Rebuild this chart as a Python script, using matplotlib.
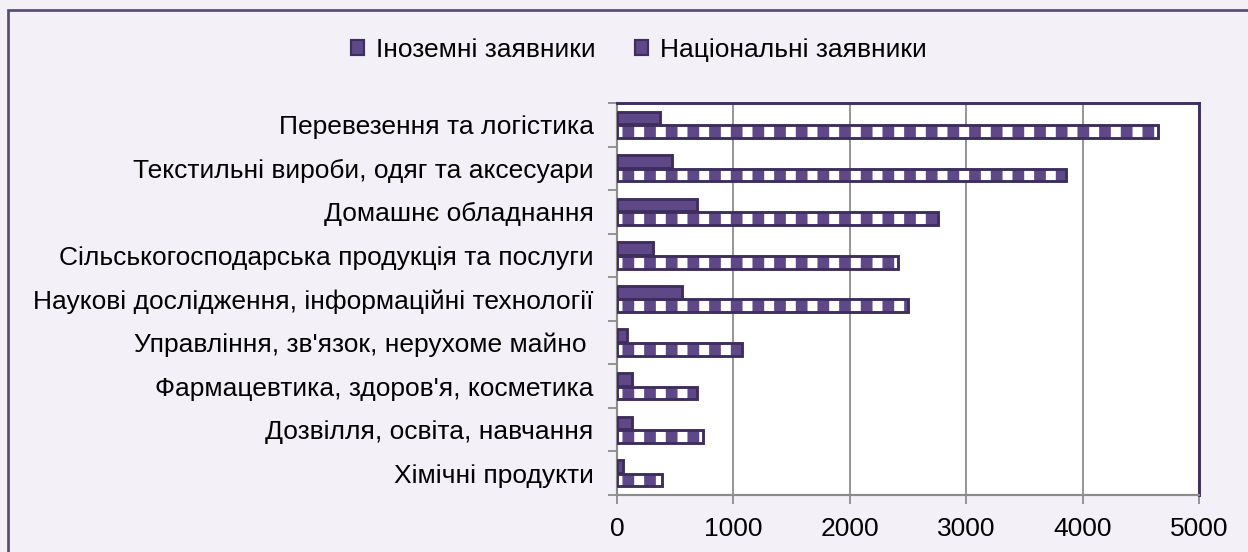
import numpy as np
import matplotlib.pyplot as plt
from matplotlib.patches import Patch, Rectangle

plt.rcParams['font.family'] = ['Liberation Sans', 'DejaVu Sans']
plt.rcParams['hatch.linewidth'] = 5.5

categories = ['Перевезення та логістика',
              'Текстильні вироби, одяг та аксесуари',
              'Домашнє обладнання',
              'Сільськогосподарська продукція та послуги',
              'Наукові дослідження, інформаційні технології',
              'Управління, зв\'язок, нерухоме майно ',
              'Фармацевтика, здоров\'я, косметика',
              'Дозвілля, освіта, навчання',
              'Хімічні продукти']
foreign = [370, 470, 690, 310, 555, 90, 130, 125, 55]
national = [4650, 3860, 2760, 2415, 2500, 1075, 690, 740, 385]
xticks = [0, 1000, 2000, 3000, 4000, 5000]

purple = '#5e4887'
dark = '#3e2d5e'
bg = '#f3f1f7'
grey = '#8c8c8c'
fs = 14.6

fig = plt.figure(figsize=(9.6, 552 / 130), dpi=130, facecolor=bg)
ax = fig.add_axes([617 / 1248, 1 - 495 / 552, 582 / 1248, 392 / 552])
ax.set_facecolor('white')

y = np.arange(len(categories))
h = 0.29
# fill layer (national gets a white stripe pattern), then outline layer
ax.barh(y - 0.155, foreign, height=h, color=purple, edgecolor='white', linewidth=0, zorder=3)
ax.barh(y - 0.155, foreign, height=h, fill=False, edgecolor=dark, linewidth=1.6, zorder=4)
nb = ax.barh(y + 0.155, national, height=h, color=purple, edgecolor='white', hatch='|', linewidth=0, zorder=3)
for p in nb:
    if hasattr(p, 'set_hatch_linewidth'):
        p.set_hatch_linewidth(5.5)
ax.barh(y + 0.155, national, height=h, fill=False, edgecolor=dark, linewidth=1.6, zorder=4)

ax.set_xlim(0, 5000)
ax.set_ylim(len(categories) - 0.5, -0.5)
ax.set_xticks(xticks)
ax.set_xticklabels([str(v) for v in xticks], fontsize=fs)
ax.set_yticks(y)
ax.set_yticklabels(categories, fontsize=fs)
ax.set_yticks(np.arange(len(categories) + 1) - 0.5, minor=True)
ax.tick_params(axis='y', which='major', length=0, pad=13)
ax.tick_params(axis='y', which='minor', length=5, width=1, color=grey)
ax.tick_params(axis='x', length=5, width=1, color=grey, pad=7)

ax.grid(axis='x', color=grey, linewidth=1.0, zorder=0)
ax.set_axisbelow(True)
for s in ['left', 'bottom']:
    ax.spines[s].set_color(grey)
    ax.spines[s].set_linewidth(1.2)
for s in ['top', 'right']:
    ax.spines[s].set_color(dark)
    ax.spines[s].set_linewidth(1.6)

handles = [Patch(facecolor=purple, edgecolor=dark, linewidth=1.2, label='Іноземні заявники'),
           Patch(facecolor=purple, edgecolor=dark, linewidth=1.2, label='Національні заявники')]
fig.legend(handles=handles, loc='center', bbox_to_anchor=(0.512, 1 - 50 / 552), ncol=2,
           frameon=False, fontsize=fs, handlelength=0.5, handleheight=0.5,
           handletextpad=0.45, columnspacing=1.5)

fig.patches.append(Rectangle((8 / 1248, -0.1), 1.2, 1.1 - 10 / 552, transform=fig.transFigure,
                             fill=False, edgecolor='#5a4a78', linewidth=1.5))

fig.savefig('out.png', dpi=130, facecolor=bg)
